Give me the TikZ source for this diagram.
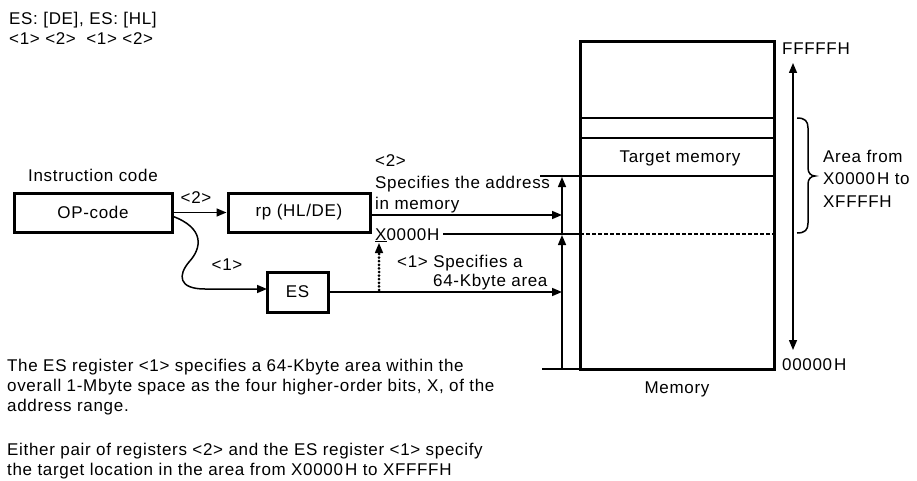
\documentclass[tikz,border=0pt]{standalone}
\usepackage{fontspec}
\setmainfont{Liberation Sans}[LetterSpace=4]
\usetikzlibrary{arrows.meta}
\begin{document}
\begin{tikzpicture}[x=1pt,y=-1pt,
  font=\fontsize{17}{20}\selectfont,
  txt/.style={inner sep=0pt, anchor=base west},
  ctxt/.style={inner sep=0pt, anchor=base},
  box/.style={draw, line width=3pt, inner sep=0pt},
  thin/.style={line width=1.5pt},
  arr/.style={thin, -{Triangle[length=10pt,width=8pt]}},
  dotline/.style={line width=3pt, dash pattern=on 0pt off 3.6pt, line cap=round}]
\useasboundingbox (0,0) rectangle (917,481);

% top text
\node[txt] (t1) at (9,25) {ES: [DE], ES: [HL]};
\node[txt] (t2) at (9,45) {<1> <2>\hspace{5pt} <1> <2>};

% left boxes
\node[txt] (ic) at (28,182) {Instruction code};
\node[box, minimum width=158pt, minimum height=39pt] (op) at (93,212.5) {OP-code};
\node[box, minimum width=142pt, minimum height=39pt] (rp) at (299,212.5) {rp (HL/DE)};
\node[box, minimum width=61pt, minimum height=40pt] (es) at (297.5,292) {ES};
\node[ctxt] (l2) at (196,203) {<2>};
\node[ctxt] (l1) at (227,270) {<1>};

% memory box
\node[box, minimum width=194pt, minimum height=327pt] (mem) at (677,205.5) {};
\node[ctxt] (tm) at (680,163) {Target memory};
\node[ctxt] (ml) at (677,393) {Memory};
\draw[thin] (580,118) -- (774,118);
\draw[thin] (580,138) -- (774,138);

% labels middle
\node[txt] (s0) at (375,167) {<2>};
\node[txt] (s1) at (375,188) {Specifies the address};
\node[txt] (s2) at (375,209) {in memory};
\node[txt] (x0) at (375,240) {\underline{X}0000H};
\node[txt] (k1) at (397,267) {<1> Specifies a};
\node[txt] (k2) at (433,286) {64-Kbyte area};

% coordinates
\coordinate (a0) at (562,369);
\coordinate (a1) at (562,235);
\coordinate (a2) at (562,177);
\coordinate (b0) at (542,369);
\coordinate (h176) at (540,176);
\coordinate (xl) at (443,234);
\coordinate (xm) at (580,234);
\coordinate (xr) at (774,234);
\coordinate (rpo) at (370,215);
\coordinate (rpi) at (562,215);
\coordinate (esi) at (562,292);
\coordinate (d0) at (379,290);
\coordinate (d1) at (379,253);
\coordinate (d2) at (379,243);
\coordinate (c0) at (172,216);
\coordinate (c1) at (267,289);

% connectors
\draw[arr] (op.east) -- (rp.west);
\draw[arr] (c0) .. controls (205,228) and (202,248) .. (189,262)
  .. controls (178,275) and (178,289) .. (205,289) -- (c1);
\draw[arr] (rpo) -- (rpi);
\draw[arr] (es.east) -- (esi);
\draw[dotline] (d0) -- (d1);
\draw[arr] (d1) -- (d2);
\draw[arr] (a0) -- (a1);
\draw[arr] (a1) -- (a2);
\draw[thin] (b0) -- (a0) -- (580,369);
\draw[thin] (h176) -- (774,176);
\draw[thin] (xl) -- (xm);
\draw[thin, dash pattern=on 4pt off 2pt] (xm) -- (xr);

% right side
\node[txt] (ff) at (782,55) {FFFFFH};
\node[txt] (zz) at (782,370) {00000\kern2pt H};
\coordinate (v0) at (793,63);
\coordinate (v1) at (793,350);
\draw[thin, {Triangle[length=10pt,width=8pt]}-{Triangle[length=10pt,width=8pt]}] (v0) -- (v1);
\draw[thin] (797,118) .. controls (805,118) and (808,121) .. (808,128) -- (808,168)
  .. controls (808,173) and (811,176) .. (815,176)
  .. controls (811,176) and (808,179) .. (808,184) -- (808,223)
  .. controls (808,230) and (805,233) .. (797,233);
\node[txt] (ar1) at (823,163) {Area from};
\node[txt] (ar2) at (823,185) {X0000\kern2pt H to};
\node[txt] (ar3) at (823,207) {XFFFFH};

% bottom text
\node[txt] (p1) at (7,371) {The ES register <1> specifies a 64-Kbyte area within the};
\node[txt] (p2) at (7,391) {overall 1-Mbyte space as the four higher-order bits, X, of the};
\node[txt] (p3) at (7,411) {address range.};
\node[txt] (p4) at (7,455) {Either pair of registers <2> and the ES register <1> specify};
\node[txt] (p5) at (7,475) {the target location in the area from X0000\kern2pt H to XFFFFH};
\end{tikzpicture}
\end{document}
